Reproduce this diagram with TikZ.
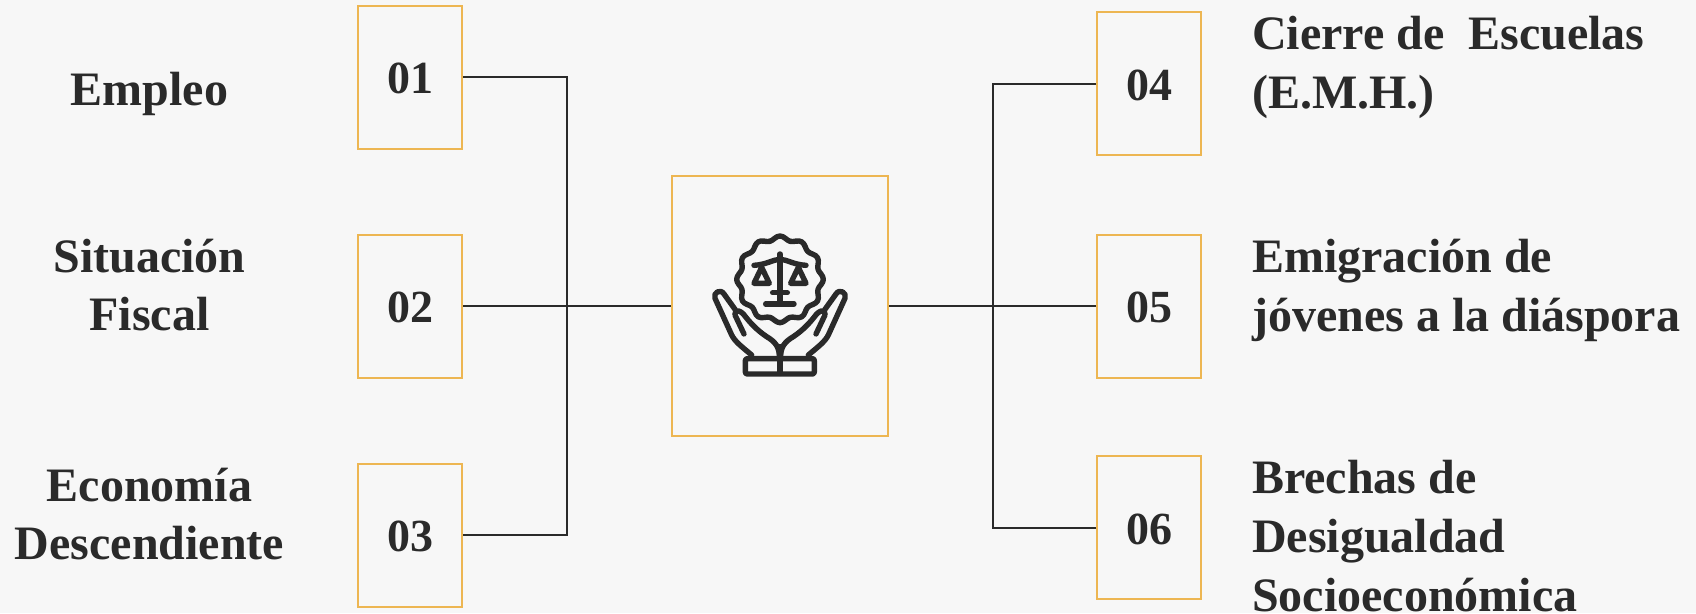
\documentclass[tikz,border=0pt]{standalone}
\usepackage{fontspec}
\setmainfont{Liberation Serif}
\definecolor{bgc}{HTML}{F7F7F7}
\definecolor{orng}{HTML}{EDB652}
\definecolor{ink}{HTML}{2A2A2A}
\tikzset{
  x=1pt,y=-1pt,
  numbox/.style={draw=orng,line width=2pt,minimum width=104pt,minimum height=143pt,inner sep=0pt,text=ink,text height=33.5pt,text depth=0pt,font=\fontsize{46}{58}\selectfont\bfseries},
  bigbox/.style={draw=orng,line width=2pt,minimum width=216pt,minimum height=260pt,inner sep=0pt},
  link/.style={draw=ink,line width=2pt},
  leftlabel/.style={text=ink,align=center,inner sep=0pt,font=\fontsize{48}{58}\selectfont\bfseries},
  rightlabel/.style={text=ink,align=left,anchor=west,inner sep=0pt,font=\fontsize{48}{59}\selectfont\bfseries},
  iconline/.style={draw=ink,line width=5.4pt,line cap=round,line join=round}
}
\begin{document}
\begin{tikzpicture}
\fill[bgc] (0,0) rectangle (1696,613);
\useasboundingbox (0,0) rectangle (1696,613);
\node[numbox] (n1) at (410,77) {01};
\node[numbox] (n2) at (410,306) {02};
\node[numbox] (n3) at (410,535) {03};
\node[numbox] (n4) at (1149,83.5) {04};
\node[numbox] (n5) at (1149,306) {05};
\node[numbox] (n6) at (1149,527.5) {06};
\node[bigbox] (hub) at (780,306) {};
\coordinate (lt) at (567,306);
\coordinate (rt) at (993,306);
\draw[link] (n1.east) -| (lt);
\draw[link] (n3.east) -| (lt);
\draw[link] (n2.east) -- (hub.west);
\draw[link] (hub.east) -- (n5.west);
\draw[link] (n4.west) -| (rt);
\draw[link] (n6.west) -| (rt);
\node[leftlabel] (t1) at (149.5,93.5) {Empleo};
\node[leftlabel] (t2) at (149.5,285) {Situación\\Fiscal};
\node[leftlabel] (t3) at (149.5,514.5) {Economía\\Descendiente};
\node[rightlabel] (t4) at (1252,67) {Cierre de\ \ Escuelas\\(E.M.H.)};
\node[rightlabel] (t5) at (1252,290) {Emigración de\\jóvenes a la diáspora};
\node[rightlabel] (t6) at (1252,536) {Brechas de\\Desigualdad\\Socioeconómica};
\begin{scope}[shift={(660,170)},x=0.3333pt,y=-0.3333pt]
\draw[iconline] plot[smooth cycle,samples=96,domain=0:356.25,variable=\a] ({360+(124+6*cos(12*\a))*cos(\a)},{328+(124+6*cos(12*\a))*sin(\a)});
\draw[iconline] (360,252) -- (360,402);
\draw[iconline] (317,402) -- (402,402);
\draw[iconline] (338,368) -- (382,368);
\draw[iconline] (282,286) .. controls (320,284) and (340,268) .. (360,268) .. controls (380,268) and (400,284) .. (438,286);
\draw[iconline] (282,340) -- (328,340) -- (305,292) -- cycle;
\draw[iconline] (392,340) -- (438,340) -- (415,292) -- cycle;
\draw[iconline] (275,555) .. controls (245,530) and (225,515) .. (215,495) -- (165,385) .. controls (158,368) and (182,355) .. (192,372) -- (225,418);
\draw[iconline] (225,430) .. controls (228,418) and (240,422) .. (250,432) .. controls (270,458) and (290,480) .. (320,500) .. controls (345,515) and (358,530) .. (358,560);
\draw[iconline] (225,435) -- (252,492);
\draw[iconline] (445,555) .. controls (475,530) and (495,515) .. (505,495) -- (555,385) .. controls (562,368) and (538,355) .. (528,372) -- (495,418);
\draw[iconline] (495,430) .. controls (492,418) and (480,422) .. (470,432) .. controls (450,458) and (430,480) .. (400,500) .. controls (375,515) and (362,530) .. (362,560);
\draw[iconline] (495,435) -- (468,492);
\draw[iconline,rounded corners=2pt] (256,566) rectangle (463,612);
\draw[iconline] (360,530) -- (360,610);
\end{scope}
\end{tikzpicture}
\end{document}
